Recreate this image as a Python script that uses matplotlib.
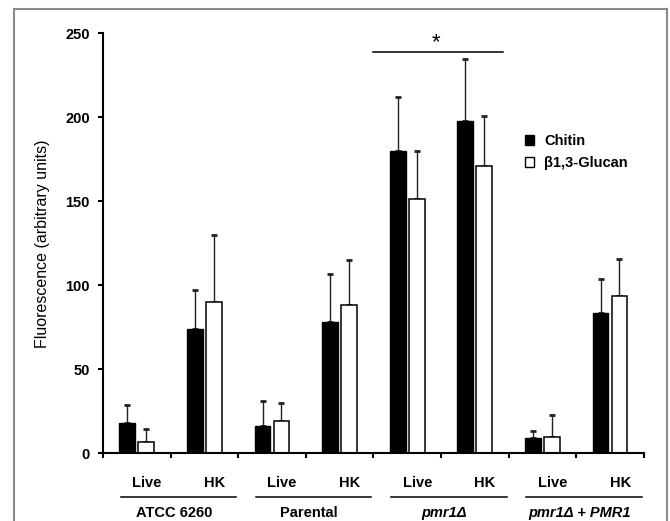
import numpy as np
import matplotlib
matplotlib.use("Agg")
import matplotlib.pyplot as plt
from matplotlib.patches import Patch
from matplotlib.lines import Line2D
import matplotlib.transforms as mtransforms

plt.rcParams['font.family'] = ['Liberation Sans', 'DejaVu Sans']

# data
groups = ['ATCC 6260', 'Parental', 'pmr1\u0394', 'pmr1\u0394 + PMR1']
group_italic = [False, False, True, True]
conditions = ['Live', 'HK', 'Live', 'HK', 'Live', 'HK', 'Live', 'HK']
chitin = [18, 74, 16, 78, 180, 198, 9, 83.5]
chitin_err = [10.5, 23, 15, 29, 32, 37, 4.5, 20]
glucan = [6.5, 90, 19, 88, 151.5, 171, 10, 93.5]
glucan_err = [8, 40, 11, 27, 28.5, 30, 13, 22]

x = np.arange(len(conditions))
w = 0.235
off = 0.14

fig = plt.figure(figsize=(6.7, 5.21), dpi=100)
ax = fig.add_axes([103/670, 1-453.3/521, 540.8/670, 420/521])

zeros = np.zeros(len(x))
ax.bar(x - off, chitin, w, color='black', edgecolor='black', linewidth=1.0, zorder=2)
ax.bar(x + off, glucan, w, color='white', edgecolor='black', linewidth=1.1, zorder=2)
ax.errorbar(x - off, chitin, yerr=[zeros, chitin_err], fmt='none', ecolor='#222222',
            elinewidth=1.0, capsize=2.4, capthick=2.0, zorder=1)
ax.errorbar(x + off, glucan, yerr=[zeros, glucan_err], fmt='none', ecolor='#222222',
            elinewidth=1.0, capsize=2.4, capthick=2.0, zorder=1)

ax.set_xlim(-0.5, len(x) - 0.5)
ax.set_ylim(0, 250)
ax.set_yticks([0, 50, 100, 150, 200, 250])
ax.set_xticks(np.arange(-0.5, len(x), 1.0))
ax.set_xticklabels([])
for s in ['top', 'right']:
    ax.spines[s].set_visible(False)
for s in ['left', 'bottom']:
    ax.spines[s].set_linewidth(1.5)
ax.tick_params(axis='both', direction='out', length=3.6, width=1.5)
ax.tick_params(axis='y', pad=6, labelsize=10.5)
for lab in ax.get_yticklabels():
    lab.set_fontweight('bold')
ax.set_ylabel('Fluorescence (arbitrary units)', fontsize=11.5)
ax.yaxis.set_label_coords(-0.098, 0.5)

# labels under the axis
tr = mtransforms.blended_transform_factory(ax.transData, fig.transFigure)
for i, c in enumerate(conditions):
    ax.text(i + 0.15, 1 - 483.3/521, c, transform=tr, ha='center', va='center',
            fontsize=10.5, fontweight='bold')
for g, name in enumerate(groups):
    left = 2*g - 0.5
    right = 2*g + 1.5
    ax.add_line(Line2D([left + 0.26, right - 0.03], [1 - 496.7/521]*2, transform=tr,
                       color='black', linewidth=1.1, clip_on=False))
    ax.text(2*g + 0.55, 1 - 512.7/521, name, transform=tr, ha='center', va='center',
            fontsize=10.5, fontweight='bold',
            fontstyle='italic' if group_italic[g] else 'normal')

# significance bar
ax.plot([3.49, 5.42], [238.7, 238.7], color='black', linewidth=1.1, clip_on=False)
ax.text(4.43, 244.5, '*', ha='center', va='center', fontsize=16, clip_on=False)

handles = [Patch(facecolor='black', edgecolor='black', label='Chitin'),
           Patch(facecolor='white', edgecolor='black', label='\u03b21,3-Glucan')]
leg = fig.legend(handles=handles, loc='upper left', bbox_to_anchor=(512/670, 1 - 121/521),
                 frameon=False, handlelength=0.6, handleheight=0.6, handletextpad=0.7,
                 labelspacing=0.55, prop={'size': 10.5, 'weight': 'bold'})

# grey frame round the picture
fc = '#8a8a8a'
fig.add_artist(Line2D([14.3/670, 14.3/670], [0, 1 - 9/521], color=fc, linewidth=1.5))
fig.add_artist(Line2D([666.7/670, 666.7/670], [0, 1 - 9/521], color=fc, linewidth=1.5))
fig.add_artist(Line2D([14.3/670, 666.7/670], [1 - 9/521, 1 - 9/521], color=fc, linewidth=1.5))

fig.savefig('out.png', dpi=100)
